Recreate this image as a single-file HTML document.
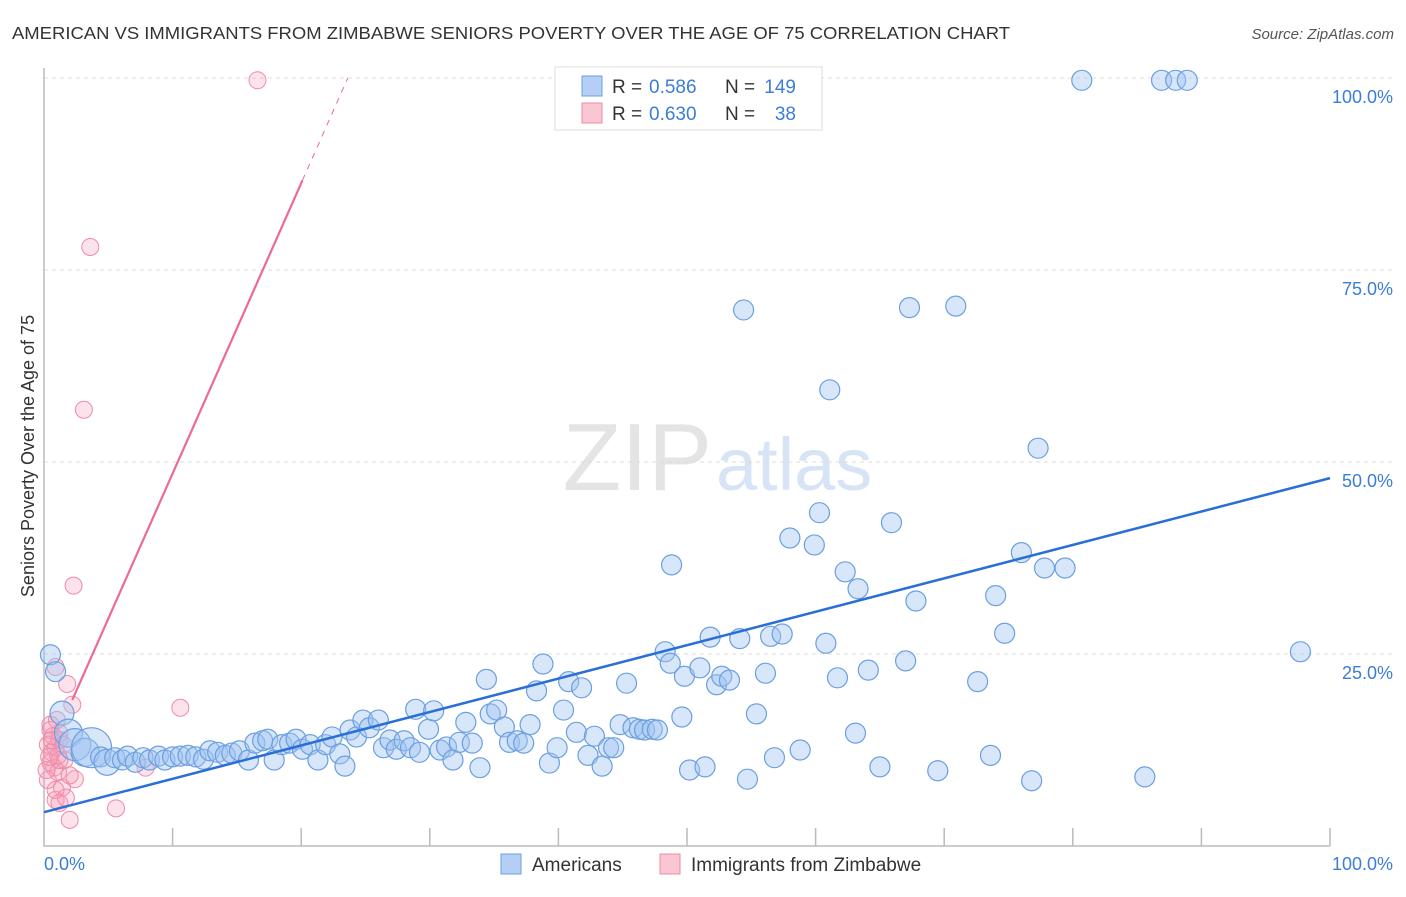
<!DOCTYPE html>
<html><head><meta charset="utf-8"><style>
body{margin:0;background:#fff;font-family:"Liberation Sans",sans-serif;}
svg text{font-family:"Liberation Sans",sans-serif;}
</style></head><body>
<svg id="chart" width="1406" height="892">
<text x="12" y="39" font-size="17.5" fill="#333" textLength="998" lengthAdjust="spacingAndGlyphs">AMERICAN VS IMMIGRANTS FROM ZIMBABWE SENIORS POVERTY OVER THE AGE OF 75 CORRELATION CHART</text>
<text x="1394" y="39" font-size="15" fill="#555" font-style="italic" text-anchor="end">Source: ZipAtlas.com</text>
<text x="712" y="490" font-size="96" fill="#e4e4e4" font-family="Liberation Serif" text-anchor="end">ZIP</text>
<text x="716" y="490" font-size="74" fill="#d6e4f6">atlas</text>
<text transform="translate(34,456) rotate(-90)" font-size="18" fill="#333" text-anchor="middle">Seniors Poverty Over the Age of 75</text>
<g id="grid"></g><g id="pts"></g><g id="lines"></g>
<g>
<rect x="555" y="67" width="267" height="63" fill="#fff" stroke="#ddd"/>
<rect x="582" y="76" width="20" height="20" fill="#b4cff3" stroke="#6a9fe0"/>
<rect x="582" y="103" width="20" height="20" fill="#f9c6d4" stroke="#f08aa8"/>
<text x="612" y="93" font-size="19" fill="#333">R =</text>
<text x="649" y="93" font-size="19" fill="#3b7dd8">0.586</text>
<text x="725" y="93" font-size="19" fill="#333">N =</text>
<text x="796" y="93" font-size="19" fill="#3b7dd8" text-anchor="end">149</text>
<text x="612" y="120" font-size="19" fill="#333">R =</text>
<text x="649" y="120" font-size="19" fill="#3b7dd8">0.630</text>
<text x="725" y="120" font-size="19" fill="#333">N =</text>
<text x="796" y="120" font-size="19" fill="#3b7dd8" text-anchor="end">38</text>
</g>
<g>
<rect x="501" y="854" width="20" height="20" fill="#b4cff3" stroke="#6a9fe0"/>
<text x="532" y="871" font-size="19" fill="#333">Americans</text>
<rect x="660" y="854" width="20" height="20" fill="#f9c6d4" stroke="#f08aa8"/>
<text x="691" y="871" font-size="19" fill="#333">Immigrants from Zimbabwe</text>
</g>
<text x="44" y="870" font-size="18" fill="#3b7dd8">0.0%</text>
<text x="1393" y="870" font-size="18" fill="#3b7dd8" text-anchor="end">100.0%</text>
</svg>
<script>
const yTicks=[25,50,75,100];
const yTickLabels=["25.0%","50.0%","75.0%","100.0%"];
const blueX=[0.5,0.9,1.4,1.9,2.4,3.2,3.7,4.4,4.9,5.5,6.1,6.5,7.1,7.7,8.2,8.9,9.4,10.0,10.6,11.2,11.8,12.4,12.9,13.5,14.1,14.6,15.2,15.9,16.4,17.0,17.4,17.9,18.5,19.1,19.6,20.1,20.7,21.3,21.9,22.4,23.0,23.4,23.8,24.3,24.8,25.3,26.0,26.4,26.9,27.4,28.0,28.5,28.9,29.2,29.9,30.3,30.8,31.3,31.8,32.3,32.8,33.3,33.9,34.4,34.7,35.2,35.8,36.2,36.8,37.3,37.8,38.3,38.8,39.3,39.9,40.4,40.8,41.4,41.8,42.3,42.8,43.4,43.9,44.3,44.8,45.3,45.8,46.3,46.7,47.3,47.7,48.3,48.7,48.8,49.6,49.8,50.2,51.0,51.4,51.8,52.3,52.7,53.3,54.1,54.4,54.7,55.4,56.1,56.5,56.8,57.4,58.0,58.8,59.9,60.3,60.8,61.1,61.7,62.3,63.1,63.3,64.1,65.0,65.9,67.0,67.3,67.8,69.5,70.9,72.6,73.6,74.0,74.7,76.0,76.8,77.3,77.8,79.4,80.7,85.6,86.9,88.0,88.9,97.7];
const blueY=[24.9,22.7,17.3,14.7,13.2,12.2,12.8,11.6,10.9,11.5,11.2,11.7,10.9,11.5,11.2,11.7,11.2,11.6,11.7,11.8,11.6,11.3,12.4,12.2,11.8,12.1,12.4,11.2,13.4,13.7,13.9,11.2,13.2,13.4,13.9,12.6,13.2,11.2,13.2,14.2,12.0,10.4,15.1,14.2,16.4,15.4,16.4,12.8,13.8,12.6,13.7,12.8,17.8,12.2,15.2,17.6,12.5,12.9,11.2,13.5,16.1,13.4,10.2,21.7,17.2,17.7,15.5,13.5,13.7,13.4,15.8,20.2,23.7,10.8,12.8,17.7,21.4,14.8,20.6,11.8,14.3,10.4,12.8,12.8,15.8,21.2,15.4,15.2,15.1,15.2,15.1,25.3,23.8,36.6,16.8,22.1,9.9,23.2,10.3,27.2,21.0,22.1,21.6,27.0,69.8,8.7,17.2,22.5,27.3,11.5,27.6,40.1,12.5,39.2,43.4,26.4,59.4,21.9,35.7,14.7,33.5,22.9,10.3,42.1,24.1,70.1,31.9,9.8,70.3,21.4,11.8,32.6,27.7,38.2,8.5,51.8,36.2,36.2,99.7,9.0,99.7,99.7,99.7,25.3];
const pinkX=[16.6,3.6,3.1,2.3,1.8,2.2,0.9,10.6,0.5,1.2,0.3,0.6,0.9,1.2,0.5,0.8,1.1,0.3,1.6,2.4,1.4,0.9,1.2,1.7,2.0,5.6,7.9,0.6,1.1,0.2,0.7,1.5,0.9,2.0,0.5,1.0,1.2,0.4];
const pinkY=[99.7,78.0,56.8,33.9,21.1,18.4,23.3,18.0,15.1,14.7,13.2,12.2,12.8,13.8,10.9,10.2,9.6,8.6,11.2,8.7,7.6,6.0,5.6,6.3,3.4,4.9,10.2,13.8,11.8,9.9,14.3,13.2,7.3,9.2,15.8,16.4,11.2,11.6];
const blueTrend=[4.4,47.9];  // y at x=0 and x=100
const pinkTrend=[10.7,3.78]; // intercept, slope
const NS="http://www.w3.org/2000/svg";
const X0=44,X1=1330,Y0=846,Y100=78;
const sx=v=>X0+(X1-X0)*v/100, sy=v=>Y0-(Y0-Y100)*v/100;
function mk(t,a,p){const e=document.createElementNS(NS,t);for(const k in a)e.setAttribute(k,a[k]);p.appendChild(e);return e;}
const grid=document.getElementById('grid');
yTicks.forEach((t,i)=>{
 const l=mk('line',{x1:X0,x2:1393,y1:sy(t),y2:sy(t),stroke:'#ddd','stroke-dasharray':'4,4'},grid);
 
 
 const tx=mk('text',{x:1393,y:sy(t)+25,'font-size':18,fill:'#3b7dd8','text-anchor':'end'},grid);
 tx.textContent=yTickLabels[i];
 
 
});
const ax=mk('path',{d:`M${X0} 68 V${Y0} H${X1}`,stroke:'#bbb',fill:'none','stroke-width':1.5},grid);


for(let i=1;i<=10;i++){const t=mk('line',{x1:sx(i*10),x2:sx(i*10),y1:828,y2:Y0,stroke:'#bbb','stroke-width':1.5},grid);
 
 }
const pts=document.getElementById('pts');
pinkX.forEach((x,i)=>{const c=mk('circle',{cx:sx(x),cy:sy(pinkY[i]),r:8.5,fill:'rgba(245,160,185,0.3)',stroke:'#f08aa8','stroke-width':1},pts);
 
 });
blueX.forEach((x,i)=>{const big={2:12,3:14,4:16,5:14,6:20,8:13}[i]||10;
 const c=mk('circle',{cx:sx(x),cy:sy(blueY[i]),r:big,fill:'rgba(160,196,240,0.42)',stroke:'#6a9fe0','stroke-width':1.2},pts);
 
 });
const L=document.getElementById('lines');
const bl=mk('line',{x1:sx(0),y1:sy(blueTrend[0]),x2:sx(100),y2:sy(blueTrend[1]),stroke:'#2a6fd6','stroke-width':2.5},L);


const pf=x=>pinkTrend[0]+pinkTrend[1]*x;
const pxEnd=(100-pinkTrend[0])/pinkTrend[1];
const pl=mk('line',{x1:sx(2.2),y1:sy(pf(2.2)),x2:sx(20.1),y2:sy(pf(20.1)),stroke:'#ec6a95','stroke-width':2.2},L);


const pd=mk('line',{x1:sx(20.1),y1:sy(pf(20.1)),x2:sx(pxEnd),y2:sy(100),stroke:'#ec6a95','stroke-width':1,'stroke-dasharray':'6,6'},L);


</script>
</body></html>
